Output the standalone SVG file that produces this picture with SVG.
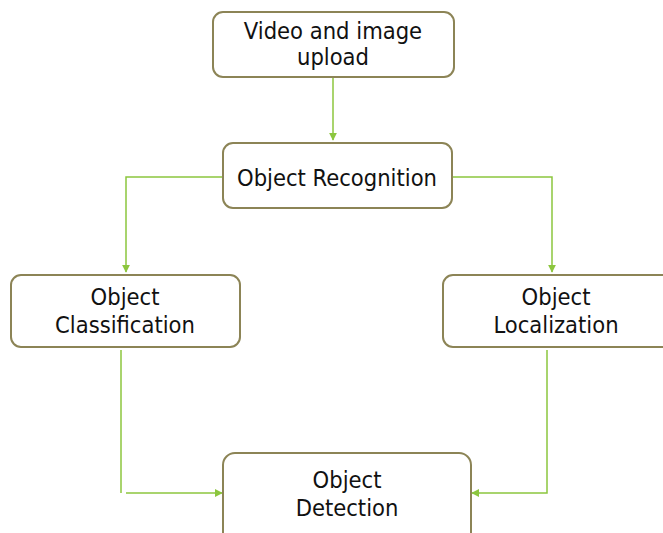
<svg xmlns="http://www.w3.org/2000/svg" width="663" height="533" viewBox="0 0 663 533">
<style>
.box{fill:#fff;stroke:#8c8456;stroke-width:2}
.t{font-family:"DejaVu Sans Condensed","DejaVu Sans",sans-serif;font-size:23.5px;fill:#111;text-anchor:middle}
.c{fill:none;stroke:#8cc63e;stroke-width:1.5}
</style>
<defs>
<marker id="a" viewBox="0 0 10 10" refX="9" refY="5" markerWidth="8" markerHeight="8" orient="auto" markerUnits="userSpaceOnUse"><path d="M0,0L10,5L0,10z" fill="#8cc63e"/></marker>
</defs>
<rect width="663" height="533" fill="#fff"/>
<g id="connectors">
<path class="c" d="M333,77V140" marker-end="url(#a)"/>
<path class="c" d="M223,177H126V272" marker-end="url(#a)"/>
<path class="c" d="M452,177H552V272" marker-end="url(#a)"/>
<path class="c" d="M121,350V493"/>
<path class="c" d="M126,493H222" marker-end="url(#a)"/>
<path class="c" d="M547,350V493H472" marker-end="url(#a)"/>
</g>
<g id="n1"><rect class="box" x="213" y="12" width="241" height="65" rx="10"/><text class="t" x="333" y="39">Video and image</text><text class="t" x="333" y="65">upload</text></g>
<g id="n2"><rect class="box" x="223" y="143" width="229" height="65" rx="10"/><text class="t" x="337" y="186">Object Recognition</text></g>
<g id="n3"><rect class="box" x="11" y="275" width="229" height="72" rx="10"/><text class="t" x="125" y="305">Object</text><text class="t" x="125" y="333">Classification</text></g>
<g id="n4"><rect class="box" x="443" y="275" width="240" height="72" rx="10"/><text class="t" x="556" y="305">Object</text><text class="t" x="556" y="333">Localization</text></g>
<g id="n5"><rect class="box" x="223" y="453" width="248" height="100" rx="12"/><text class="t" x="347" y="488">Object</text><text class="t" x="347" y="516">Detection</text></g>
</svg>
